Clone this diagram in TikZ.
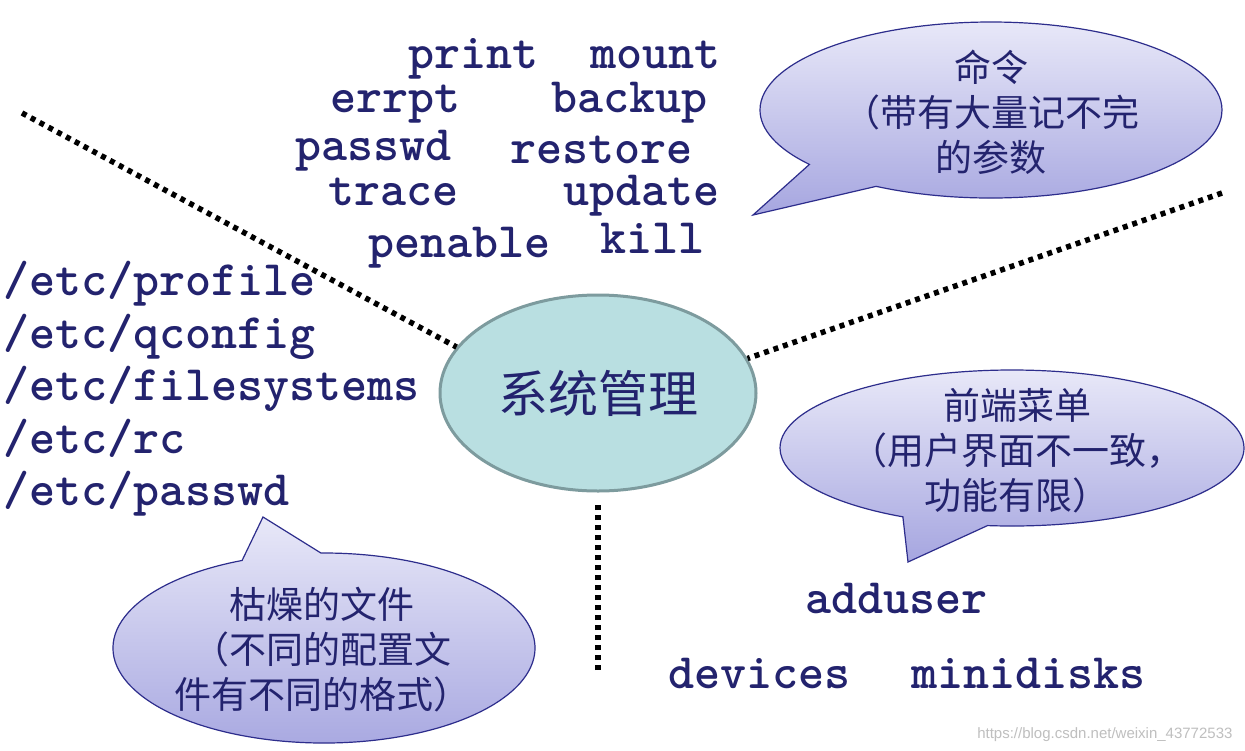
\documentclass[tikz,border=0pt]{standalone}
\usepackage{fontspec}
\newfontfamily\cjk{Noto Sans CJK SC}
\newfontfamily\wmfont{Liberation Sans}
\usetikzlibrary{shapes.geometric,shapes.callouts}
\definecolor{navy}{RGB}{35,35,110}
\definecolor{tealfill}{RGB}{185,223,225}
\definecolor{tealline}{RGB}{125,155,158}
\definecolor{bubtop}{RGB}{232,232,248}
\definecolor{bubbot}{RGB}{166,166,224}
\definecolor{bubline}{RGB}{45,45,140}
\begin{document}
\begin{tikzpicture}[x=1pt,y=-1pt,
  cmd/.style={anchor=base west,inner sep=0pt,text height=0.6em,text depth=0.18em,text=navy,font=\fontsize{49.6}{49.6}\selectfont\ttfamily\bfseries},
  bubble/.style={ellipse callout,draw=bubline,line width=1.2pt,top color=bubtop,bottom color=bubbot,inner sep=0pt,callout pointer arc=22},
  bubtext/.style={align=center,text=navy,font=\fontsize{37}{45}\selectfont\cjk},
  dotline/.style={line width=5.5pt,dash pattern=on 5pt off 5pt}]
\fill[white] (0,0) rectangle (1245,750);
\useasboundingbox (0,0) rectangle (1245,750);

\node[ellipse,draw=tealline,line width=3pt,fill=tealfill,minimum width=316pt,minimum height=196pt,inner sep=0pt,
  text=navy,font=\fontsize{50}{50}\selectfont\cjk] (sys) at (598,393) {系统管理}; %mitten

\coordinate (nw) at (22,113);
\coordinate (ne) at (1222,193);
\coordinate (s) at (598,670);
\draw[dotline] (nw) -- (sys.162);
\draw[dotline] (ne) -- (sys.13);
\draw[dotline,shorten >=9pt] (s) -- (sys.south);

%commands upper
\node[cmd] (print) at (408,68) {print};
\node[cmd] (mount) at (590,68) {mount};
\node[cmd] (errpt) at (330,112) {errpt};
\node[cmd] (backup) at (551,112) {backup};
\node[cmd] (passwd) at (295,160) {passwd};
\node[cmd] (restore) at (510,163) {restore};
\node[cmd] (trace) at (328,205) {trace};
\node[cmd] (update) at (563,205) {update};
\node[cmd] (penable) at (368,257) {penable};
\node[cmd] (kill) at (600,253) {kill};

%files left
\node[cmd] (profile) at (3,295) {/etc/profile};
\node[cmd] (qconfig) at (3,348) {/etc/qconfig};
\node[cmd] (filesys) at (3,400) {/etc/filesystems};
\node[cmd] (rc) at (3,453) {/etc/rc};
\node[cmd] (etcpw) at (3,505) {/etc/passwd};

%menus lower right
\node[cmd] (adduser) at (805,613) {adduser};
\node[cmd] (devices) at (668,688) {devices};
\node[cmd] (minidisks) at (911,688) {minidisks};

%callouts
\node[bubble,minimum width=462pt,minimum height=176pt,callout absolute pointer={(753,215)}] (cmdbub) at (991,110) {};
\node[bubtext] (cmdtext) at (991,112) {命令\\（带有大量记不完\\的参数};

\node[bubble,minimum width=464pt,minimum height=156pt,callout absolute pointer={(908,562)}] (menubub) at (1012,448) {};
\node[bubtext] (menutext) at (1017,451) {前端菜单\\（用户界面不一致，\\功能有限）};

\node[bubble,minimum width=422pt,minimum height=190pt,callout absolute pointer={(263,517)}] (filebub) at (324,648) {};
\node[bubtext] (filetext) at (322,650) {枯燥的文件\\（不同的配置文\\件有不同的格式）};

\node[anchor=base east,text=black!25,font=\fontsize{15}{15}\selectfont\wmfont] (wm) at (1236,738) {https://blog.csdn.net/weixin\_43772533};
\end{tikzpicture}
\end{document}
